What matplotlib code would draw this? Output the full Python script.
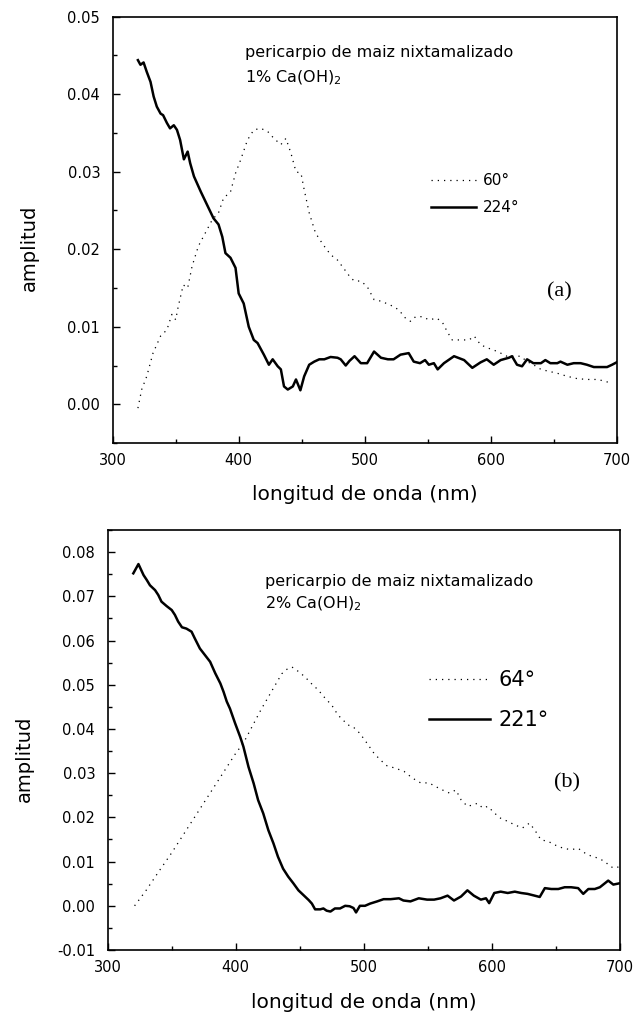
import matplotlib
matplotlib.use("Agg")
import matplotlib.pyplot as plt
from matplotlib.ticker import MultipleLocator, FormatStrFormatter

plt.rcParams['font.family'] = ['DejaVu Sans']
plt.rcParams['mathtext.default'] = 'regular'

# ---------------- data: panel (a) ----------------
a_solid_x = [320, 322, 324.5, 327, 330, 332.5, 335, 338, 340, 343, 345.5, 348.5, 351, 353.5,
             356.5, 359.5, 361.5, 364.5, 370, 375, 380, 384, 387, 389.5, 393.5, 397.5, 400,
             404, 408, 412, 415, 420, 424, 427, 431, 433.5, 436, 439, 443, 445.5, 449, 452,
             456, 460, 464, 468, 473, 478.5, 481, 485, 488, 492, 497, 502, 507.5, 513, 518.5,
             523, 528.5, 535, 539, 544, 548, 551, 555, 558, 563, 571, 579, 585.5, 592, 597,
             602.5, 608, 614.5, 617, 621, 625, 629, 634, 640, 643.5, 647.5, 653, 655.5, 661,
             666, 671.5, 676.5, 682, 687, 692.5, 696.5, 700]
a_solid_y = [0.0444, 0.0438, 0.0441, 0.0429, 0.0416, 0.0397, 0.0384, 0.0375, 0.0373, 0.0363,
             0.0356, 0.0360, 0.0354, 0.0341, 0.0316, 0.0326, 0.0311, 0.0294, 0.0274, 0.0257,
             0.0240, 0.0232, 0.0216, 0.0195, 0.0189, 0.0176, 0.0143, 0.0130, 0.0100, 0.0083,
             0.0079, 0.0064, 0.0051, 0.0058, 0.0049, 0.0045, 0.0023, 0.0019, 0.0023, 0.0032,
             0.0018, 0.0036, 0.0051, 0.0055, 0.0058, 0.0058, 0.0061, 0.0060, 0.0058, 0.0050,
             0.0056, 0.0062, 0.0053, 0.0053, 0.0068, 0.0060, 0.0058, 0.0058, 0.0064, 0.0066,
             0.0055, 0.0053, 0.0057, 0.0051, 0.0053, 0.0045, 0.0053, 0.0062, 0.0057, 0.0047,
             0.0054, 0.0058, 0.0051, 0.0057, 0.0060, 0.0062, 0.0051, 0.0049, 0.0058, 0.0053,
             0.0053, 0.0057, 0.0053, 0.0053, 0.0055, 0.0051, 0.0053, 0.0053, 0.0051, 0.0048,
             0.0048, 0.0048, 0.0051, 0.0054]

a_dot_x = [320, 323, 327, 332, 338, 343, 347, 350, 352, 356, 359.5, 363, 368, 373.5, 379, 384,
           388, 393.5, 397.5, 401.5, 407, 412, 417.5, 423, 428, 433.5, 437.5, 441.5, 445.5,
           449.5, 452, 456, 461, 467, 473, 478.5, 484, 489, 492, 497, 502, 507.5, 513, 520.5,
           527, 532.5, 536.5, 540.5, 546, 551, 557.5, 562, 565.5, 569.5, 576, 583, 587, 592,
           597, 602.5, 608, 613, 618.5, 624, 629, 634, 640, 645, 653, 661, 669, 677, 685, 690,
           696.5]
a_dot_y = [-0.0005, 0.0019, 0.0036, 0.0066, 0.0088, 0.0096, 0.0116, 0.0109, 0.0126, 0.0154,
           0.0150, 0.0178, 0.0204, 0.0221, 0.0238, 0.0247, 0.0266, 0.0274, 0.0298, 0.0315,
           0.0341, 0.0354, 0.0356, 0.0352, 0.0343, 0.0335, 0.0343, 0.0324, 0.0300, 0.0298,
           0.0277, 0.0247, 0.0221, 0.0206, 0.0193, 0.0186, 0.0174, 0.0163, 0.0159, 0.0159,
           0.0152, 0.0135, 0.0133, 0.0128, 0.0122, 0.0111, 0.0107, 0.0113, 0.0113, 0.0109,
           0.0111, 0.0105, 0.0094, 0.0083, 0.0083, 0.0083, 0.0088, 0.0077, 0.0073, 0.0070,
           0.0066, 0.0062, 0.0062, 0.0062, 0.0055, 0.0051, 0.0045, 0.0043, 0.0040, 0.0036,
           0.0033, 0.0032, 0.0032, 0.0030, 0.0027]

# ---------------- data: panel (b) ----------------
b_solid_x = [320, 324, 328, 330.5, 333, 337, 339.5, 342, 346, 350, 352.5, 355, 358, 361.5,
             365.5, 368, 372, 376, 380, 384, 388, 390.5, 393, 395.5, 399.5, 403.5, 406, 410,
             414, 417.5, 421.5, 425.5, 429.5, 433, 437, 441, 445, 449, 453, 457, 459.5, 462,
             466, 468.5, 471, 474, 477.5, 481.5, 485.5, 489, 492, 494, 497, 501, 505, 510.5,
             515.5, 521, 527.5, 531, 536.5, 543, 549.5, 555, 560, 565.5, 570.5, 576, 581, 586,
             591.5, 595.5, 598, 602, 607, 612.5, 618, 623, 628, 633.5, 637.5, 641.5, 646.5,
             652, 657, 662, 667.5, 671.5, 675.5, 680.5, 684.5, 691, 695, 700]
b_solid_y = [0.0752, 0.0773, 0.0748, 0.0737, 0.0725, 0.0714, 0.0703, 0.0688, 0.0678, 0.0669,
             0.0658, 0.0643, 0.0630, 0.0627, 0.0620, 0.0605, 0.0582, 0.0567, 0.0552, 0.0526,
             0.0503, 0.0484, 0.0462, 0.0446, 0.0413, 0.0382, 0.0360, 0.0314, 0.0277, 0.0239,
             0.0209, 0.0171, 0.0141, 0.0111, 0.0084, 0.0066, 0.0051, 0.0035, 0.0024, 0.0013,
             0.0005, -0.0008, -0.0008, -0.0006, -0.0011, -0.0013, -0.0006, -0.0006, 0.0000,
             -0.0001, -0.0005, -0.0015, 0.0000, 0.0000, 0.0005, 0.0010, 0.0015, 0.0015, 0.0017,
             0.0012, 0.0010, 0.0017, 0.0014, 0.0014, 0.0017, 0.0023, 0.0012, 0.0021, 0.0035,
             0.0023, 0.0014, 0.0017, 0.0006, 0.0029, 0.0032, 0.0029, 0.0032, 0.0029, 0.0027,
             0.0023, 0.0020, 0.0040, 0.0038, 0.0038, 0.0042, 0.0042, 0.0040, 0.0027, 0.0038,
             0.0038, 0.0042, 0.0057, 0.0048, 0.0051]

b_dot_x = [321, 330, 340, 350, 360, 370, 380, 390, 400, 406, 410, 420, 430, 436, 440, 444,
           449, 454, 459, 464.5, 470, 475, 480, 484, 487, 492, 497, 502.5, 508, 513, 518, 525,
           531.5, 538, 544.5, 551, 556, 561.5, 567, 572, 576, 581, 585, 589, 593, 597, 602,
           607, 612.5, 618, 624, 629.5, 633.5, 638.5, 644, 649, 656, 662, 667.5, 673, 678,
           683, 688.5, 692.5, 696, 700]
b_dot_y = [0.0000, 0.0035, 0.0078, 0.0120, 0.0165, 0.0210, 0.0255, 0.0300, 0.0345, 0.0368,
           0.0390, 0.0445, 0.0495, 0.0525, 0.0535, 0.0540, 0.0530, 0.0518, 0.0503, 0.0488,
           0.0469, 0.0454, 0.0431, 0.0420, 0.0410, 0.0404, 0.0390, 0.0368, 0.0345, 0.0330,
           0.0317, 0.0311, 0.0304, 0.0289, 0.0278, 0.0278, 0.0270, 0.0262, 0.0255, 0.0262,
           0.0240, 0.0225, 0.0228, 0.0232, 0.0221, 0.0225, 0.0210, 0.0198, 0.0191, 0.0183,
           0.0176, 0.0187, 0.0172, 0.0149, 0.0146, 0.0138, 0.0130, 0.0127, 0.0130, 0.0119,
           0.0112, 0.0108, 0.0100, 0.0089, 0.0085, 0.0089]

x_ticks = [300, 400, 500, 600, 700]
a_labels = ['60°', '224°']
b_labels = ['64°', '221°']

DOT = (0, (1.0, 4.0))

fig = plt.figure(figsize=(6.34, 10.14), dpi=100)
ax1 = fig.add_axes([0.1778, 0.5631, 0.7946, 0.4204])
ax2 = fig.add_axes([0.1699, 0.0631, 0.8076, 0.4142])


def style(ax, ylim, ymaj):
    ax.set_xlim(300, 700)
    ax.set_ylim(*ylim)
    ax.set_xticks(x_ticks)
    ax.xaxis.set_minor_locator(MultipleLocator(50))
    ax.yaxis.set_major_locator(MultipleLocator(ymaj))
    ax.yaxis.set_minor_locator(MultipleLocator(ymaj / 2))
    ax.yaxis.set_major_formatter(FormatStrFormatter('%.2f'))
    ax.tick_params(which='both', direction='in', top=False, right=False, width=1.0,
                   labelsize=10.5)
    ax.tick_params(which='major', length=5)
    ax.tick_params(which='minor', length=3)
    ax.tick_params(axis='y', pad=9)
    ax.tick_params(axis='x', pad=7)
    for s in ax.spines.values():
        s.set_linewidth(1.2)


# ---- panel (a)
ax1.plot(a_dot_x, a_dot_y, color='black', lw=0.9, linestyle=DOT, label=a_labels[0])
ax1.plot(a_solid_x, a_solid_y, color='black', lw=1.8, label=a_labels[1])
style(ax1, (-0.005, 0.05), 0.01)
ax1.set_xlabel('longitud de onda (nm)', fontsize=14.5, va='center')
ax1.xaxis.set_label_coords(0.5, -0.12)
ax1.set_ylabel('amplitud', fontsize=14, va='center')
ax1.yaxis.set_label_coords(-0.166, 0.457)
ax1.text(0.2626, 0.905, 'pericarpio de maiz nixtamalizado', transform=ax1.transAxes,
         fontsize=11.5, va='baseline', ha='left')
ax1.text(0.2626, 0.847, '1% Ca(OH)$_2$', transform=ax1.transAxes,
         fontsize=11.5, va='baseline', ha='left')
ax1.text(0.887, 0.354, '(a)', transform=ax1.transAxes, fontsize=16,
         family='Liberation Serif', ha='center', va='center')
ax1.legend(loc='upper left', bbox_to_anchor=(0.631, 0.633), frameon=False, borderpad=0,
           borderaxespad=0, handlelength=3.0, handletextpad=0.45, labelspacing=0.78,
           fontsize=11)

# ---- panel (b)
ax2.plot(b_dot_x, b_dot_y, color='black', lw=0.9, linestyle=DOT, label=b_labels[0])
ax2.plot(b_solid_x, b_solid_y, color='black', lw=1.8, label=b_labels[1])
style(ax2, (-0.01, 0.085), 0.01)
ax2.set_xlabel('longitud de onda (nm)', fontsize=14.5, va='center')
ax2.xaxis.set_label_coords(0.5, -0.126)
ax2.set_ylabel('amplitud', fontsize=14, va='center')
ax2.yaxis.set_label_coords(-0.163, 0.455)
ax2.text(0.307, 0.867, 'pericarpio de maiz nixtamalizado', transform=ax2.transAxes,
         fontsize=11.5, va='baseline', ha='left')
ax2.text(0.307, 0.814, '2% Ca(OH)$_2$', transform=ax2.transAxes,
         fontsize=11.5, va='baseline', ha='left')
ax2.text(0.897, 0.398, '(b)', transform=ax2.transAxes, fontsize=16,
         family='Liberation Serif', ha='center', va='center')
ax2.legend(loc='upper left', bbox_to_anchor=(0.6275, 0.666), frameon=False, borderpad=0,
           borderaxespad=0, handlelength=2.95, handletextpad=0.4, labelspacing=0.94,
           fontsize=15)

fig.savefig('out.png', dpi=100)
